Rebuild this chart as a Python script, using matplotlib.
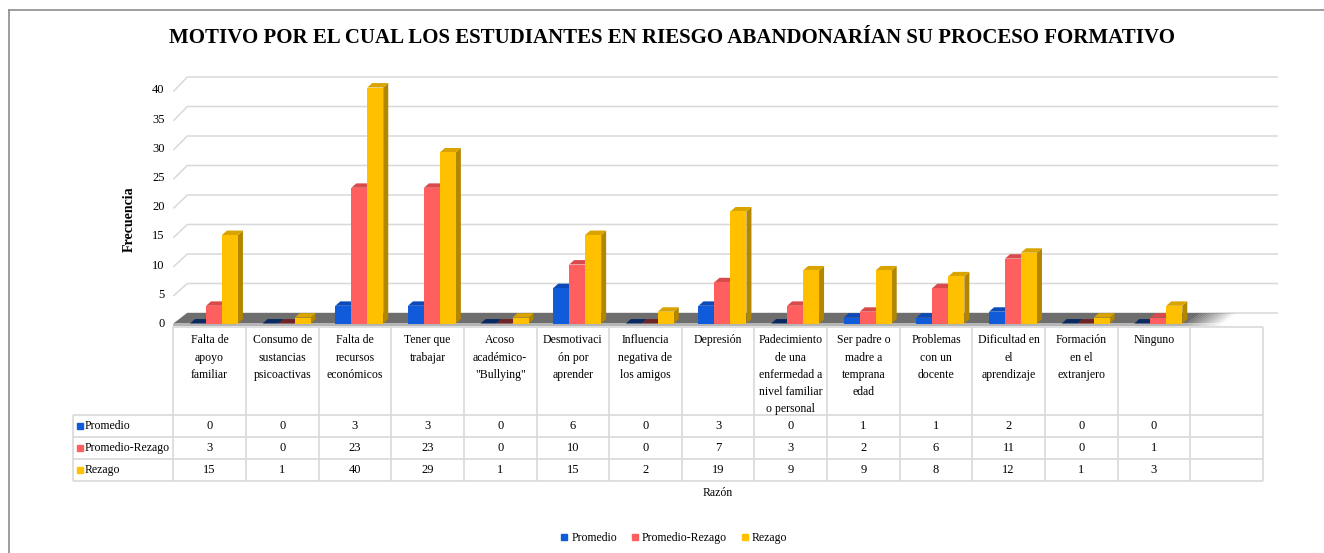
import matplotlib.pyplot as plt
from matplotlib.patches import Polygon
from matplotlib.lines import Line2D

# Datos del gráfico
categorias = [
    "Falta de\napoyo\nfamiliar",
    "Consumo de\nsustancias\npsicoactivas",
    "Falta de\nrecursos\neconómicos",
    "Tener que\ntrabajar",
    "Acoso\nacadémico-\n\"Bullying\"",
    "Desmotivaci\nón por\naprender",
    "Influencia\nnegativa de\nlos amigos",
    "Depresión",
    "Padecimiento\nde una\nenfermedad a\nnivel familiar\no personal",
    "Ser padre o\nmadre a\ntemprana\nedad",
    "Problemas\ncon un\ndocente",
    "Dificultad en\nel\naprendizaje",
    "Formación\nen el\nextranjero",
    "Ninguno",
    "",
]
promedio = [0, 0, 3, 3, 0, 6, 0, 3, 0, 1, 1, 2, 0, 0]
promedio_rezago = [3, 0, 23, 23, 0, 10, 0, 7, 3, 2, 6, 11, 0, 1]
rezago = [15, 1, 40, 29, 1, 15, 2, 19, 9, 9, 8, 12, 1, 3]
series_names = ["Promedio", "Promedio-Rezago", "Rezago"]
y_ticks = [0, 5, 10, 15, 20, 25, 30, 35, 40]

plt.rcParams["font.family"] = ["Liberation Serif", "DejaVu Serif"]

W, H = 1324, 553
fig = plt.figure(figsize=(W / 100, H / 100), dpi=100)


def fx(px):
    return px / W


def fy(py):
    return 1 - py / H


# colores: frente, lateral, tapa, tapa de barra en cero
colors = [
    ("#0F5BD9", "#0A3D91", "#0B4AB8", "#0B2A63"),
    ("#FF5F5F", "#BF4646", "#D94B4B", "#6E2424"),
    ("#FFC000", "#B38600", "#D9A300", "#8A6A00"),
]

col_px = 72.64
left_px, right_px = 173.3, 1278.0
top_px, bottom_px = 70.0, 327.0
unit_px, base_px = 5.9, 323.5

ax = fig.add_axes([fx(left_px), fy(bottom_px), (right_px - left_px) / W,
                   (bottom_px - top_px) / H])
ax.set_xlim(-0.5, -0.5 + (right_px - left_px) / col_px)
ax.set_ylim(-(bottom_px - base_px) / unit_px, (base_px - top_px) / unit_px)
ax.axis("off")
x_end = ax.get_xlim()[1]

# pared del fondo (3D)
gdx, gdy = 14 / col_px, 10.5 / unit_px
for v in y_ticks:
    fv = 0.99 * v - 0.3
    ax.plot([-0.5, -0.5 + gdx, x_end], [fv, v + gdy, v + gdy],
            color="#D9D9D9", lw=1.1, zorder=1, solid_capstyle="butt")
    ax.text(-0.5 - 0.12, fv + 0.2, str(v), ha="right", va="center", fontsize=9)

# piso
floor_end = 13.45
ax.add_patch(Polygon([(-0.5, 0), (floor_end, 0), (floor_end + gdx, gdy),
                      (-0.5 + gdx, gdy)], closed=True, fc="#6E6E6E", ec="none", zorder=2))
ax.add_patch(Polygon([(-0.5, 0), (floor_end, 0), (floor_end, -0.5), (-0.5, -0.5)],
                     closed=True, fc="#B5B5B5", ec="none", zorder=2))
steps = 14
for k in range(steps):
    x0 = floor_end + 0.5 * k / steps
    x1 = floor_end + 0.5 * (k + 1) / steps
    a = 1 - (k + 0.5) / steps
    ax.add_patch(Polygon([(x0, 0), (x1, 0), (x1 + gdx, gdy), (x0 + gdx, gdy)],
                         closed=True, fc="#6E6E6E", ec="none", alpha=a, zorder=2))
    ax.add_patch(Polygon([(x0, 0), (x1, 0), (x1, -0.5), (x0, -0.5)],
                         closed=True, fc="#B5B5B5", ec="none", alpha=a, zorder=2))

# barras 3D
bw = 0.22
bdx, bdy = 5 / col_px, 0.75
offsets = [-0.16, 0.06, 0.28]
all_series = [promedio, promedio_rezago, rezago]
z = 3
for i in range(len(promedio)):
    for s, vals in enumerate(all_series):
        v = vals[i]
        front, side, top, zero_top = colors[s]
        xl = i + offsets[s] - bw / 2
        xr = xl + bw
        ax.add_patch(Polygon([(xr, 0), (xr + bdx, bdy), (xr + bdx, v + bdy), (xr, v)],
                             closed=True, fc=side, ec="none", zorder=z))
        ax.add_patch(Polygon([(xl, v), (xr, v), (xr + bdx, v + bdy), (xl + bdx, v + bdy)],
                             closed=True, fc=top if v > 0 else zero_top, ec="none", zorder=z))
        if v > 0:
            ax.bar(xl, v, width=bw, align="edge", color=front, zorder=z)
        z += 0.01

# tabla de datos
tab_bottom = 482.0
tab = fig.add_axes([fx(left_px), fy(tab_bottom), (right_px - left_px) / W,
                    (tab_bottom - bottom_px) / H])
tab.set_xlim(ax.get_xlim())
tab.set_ylim((tab_bottom - bottom_px) / 22, 0)
tab.axis("off")

n_cols = len(categorias)
x_lab = -0.5 - (173.3 - 73) / col_px
grid_kw = dict(color="#D9D9D9", lw=1.2, clip_on=False, solid_capstyle="butt")
for k in range(n_cols + 1):
    tab.plot([k - 0.5, k - 0.5], [0, 7], **grid_kw)
tab.plot([x_lab, x_lab], [4, 7], **grid_kw)
tab.plot([-0.5, n_cols - 0.5], [0, 0], **grid_kw)
for r in (4, 5, 6, 7):
    tab.plot([x_lab, n_cols - 0.5], [r, r], **grid_kw)

for i, lab in enumerate(categorias):
    tab.text(i, 0.34, lab, ha="center", va="top", fontsize=8.5, linespacing=1.58)

for r, (name, vals) in enumerate(zip(series_names, all_series)):
    yr = 4.5 + r
    tab.plot([-0.5 - (173.3 - 80) / col_px], [yr], marker="s", ms=4.5,
             color=colors[r][0], clip_on=False)
    tab.text(-0.5 - (173.3 - 85) / col_px, yr, name, ha="left", va="center", fontsize=8.5)
    for i, v in enumerate(vals):
        tab.text(i, yr, str(v), ha="center", va="center", fontsize=9)

tab.text((n_cols - 1) / 2, 7.55, "Razón", ha="center", va="center", fontsize=8.5)

# títulos
fig.text(fx(672), fy(38), "MOTIVO POR EL CUAL LOS ESTUDIANTES EN RIESGO ABANDONARÍAN "
         "SU PROCESO FORMATIVO", ha="center", va="center", fontsize=15, fontweight="bold")
fig.text(fx(129.5), fy(218.7), "Frecuencia", rotation=90, ha="center", va="center",
         fontsize=10, fontweight="bold")

# leyenda
handles = [Line2D([], [], ls="none", marker="s", ms=4.5, color=c[0]) for c in colors]
fig.legend(handles, series_names, loc="center", bbox_to_anchor=(fx(674), fy(538)),
           ncol=3, frameon=False, fontsize=8.5, handlelength=0.6, handletextpad=0.3,
           columnspacing=1.2)

# marco
fig.add_artist(Line2D([fx(9), 1], [fy(10), fy(10)], color="#8C8C8C", lw=1.2))
fig.add_artist(Line2D([fx(9), fx(9)], [fy(10), 0], color="#8C8C8C", lw=1.2))

fig.savefig("out.png", dpi=100)
